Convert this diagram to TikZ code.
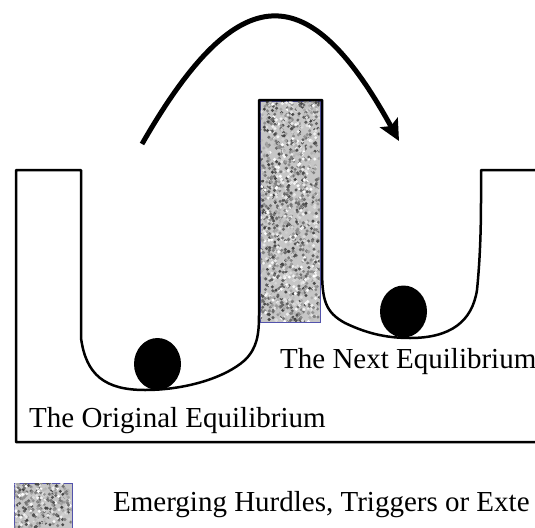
\documentclass[tikz,border=0pt]{standalone}
\usepackage{fontspec}
\setmainfont{Liberation Serif}
\usetikzlibrary{arrows.meta}
\tikzset{
  land/.style={line width=2.5pt, line join=round},
  jump/.style={line width=5pt, -{Stealth[length=21pt, width=20pt, inset=4pt]}},
  hurdle/.style={fill=gray!45, draw=blue!35!gray, line width=0.8pt},
  ball/.style={fill=black},
  eqlabel/.style={anchor=base west, inner sep=0pt, font=\fontsize{29}{34}\selectfont},
}

\begin{document}
\begin{tikzpicture}[x=1pt, y=-1pt]

  \useasboundingbox (0,0) rectangle (535,527);
  \clip (0,0) rectangle (535,527);
  \pgfmathsetseed{7}

  % hurdle block
  \draw[hurdle] (260,101) rectangle (320,322);
  \begin{scope}
    \clip (260.5,101.5) rectangle (319.5,321.5);
    \foreach \k in {1,...,1500}{
      \pgfmathsetmacro{\sx}{260+60*rnd}
      \pgfmathsetmacro{\sy}{101+221*rnd}
      \pgfmathtruncatemacro{\sh}{75*rnd}
      \fill[black!\sh] (\sx,\sy) circle[radius=1.7pt];
    }
  \end{scope}

  % landscape with two valleys
  \draw[land] (535,442) -- (16,442) -- (16,170) -- (81,170) -- (81,338)
    .. controls (86,375) and (105,390) .. (145,390)
    .. controls (185,390) and (225,378) .. (245,360)
    .. controls (257,348) and (259,335) .. (259,315)
    -- (259,100) -- (322,100) -- (322,268)
    .. controls (322,300) and (325,312) .. (345,323)
    .. controls (370,335) and (390,338) .. (410,338)
    .. controls (450,338) and (472,322) .. (477,290)
    .. controls (480,260) and (481,230) .. (481,200)
    -- (481,170) -- (535,170);

  % balls
  \fill[ball] (157.5,364) ellipse [x radius=23.5pt, y radius=26pt];
  \fill[ball] (403.5,311.5) ellipse [x radius=23.5pt, y radius=26pt];

  % jump over the hurdle
  \coordinate (jumpfrom) at (142,144);
  \coordinate (jumpto) at (399,141);
  \draw[jump] (jumpfrom) .. controls (240,-27) and (310,-21) .. (jumpto);

  % labels
  \node[eqlabel] (orig) at (29,427) {The Original Equilibrium};
  \node[eqlabel] (next) at (280,368) {The Next Equilibrium};

  % legend
  \draw[hurdle] (14,483) rectangle (72,532);
  \begin{scope}
    \clip (14.5,483.5) rectangle (71.5,527);
    \foreach \k in {1,...,300}{
      \pgfmathsetmacro{\sx}{14+58*rnd}
      \pgfmathsetmacro{\sy}{483+44*rnd}
      \pgfmathtruncatemacro{\sh}{75*rnd}
      \fill[black!\sh] (\sx,\sy) circle[radius=1.7pt];
    }
  \end{scope}
  \node[eqlabel] (legend) at (113,511) {Emerging Hurdles, Triggers or Exte};

\end{tikzpicture}
\end{document}
